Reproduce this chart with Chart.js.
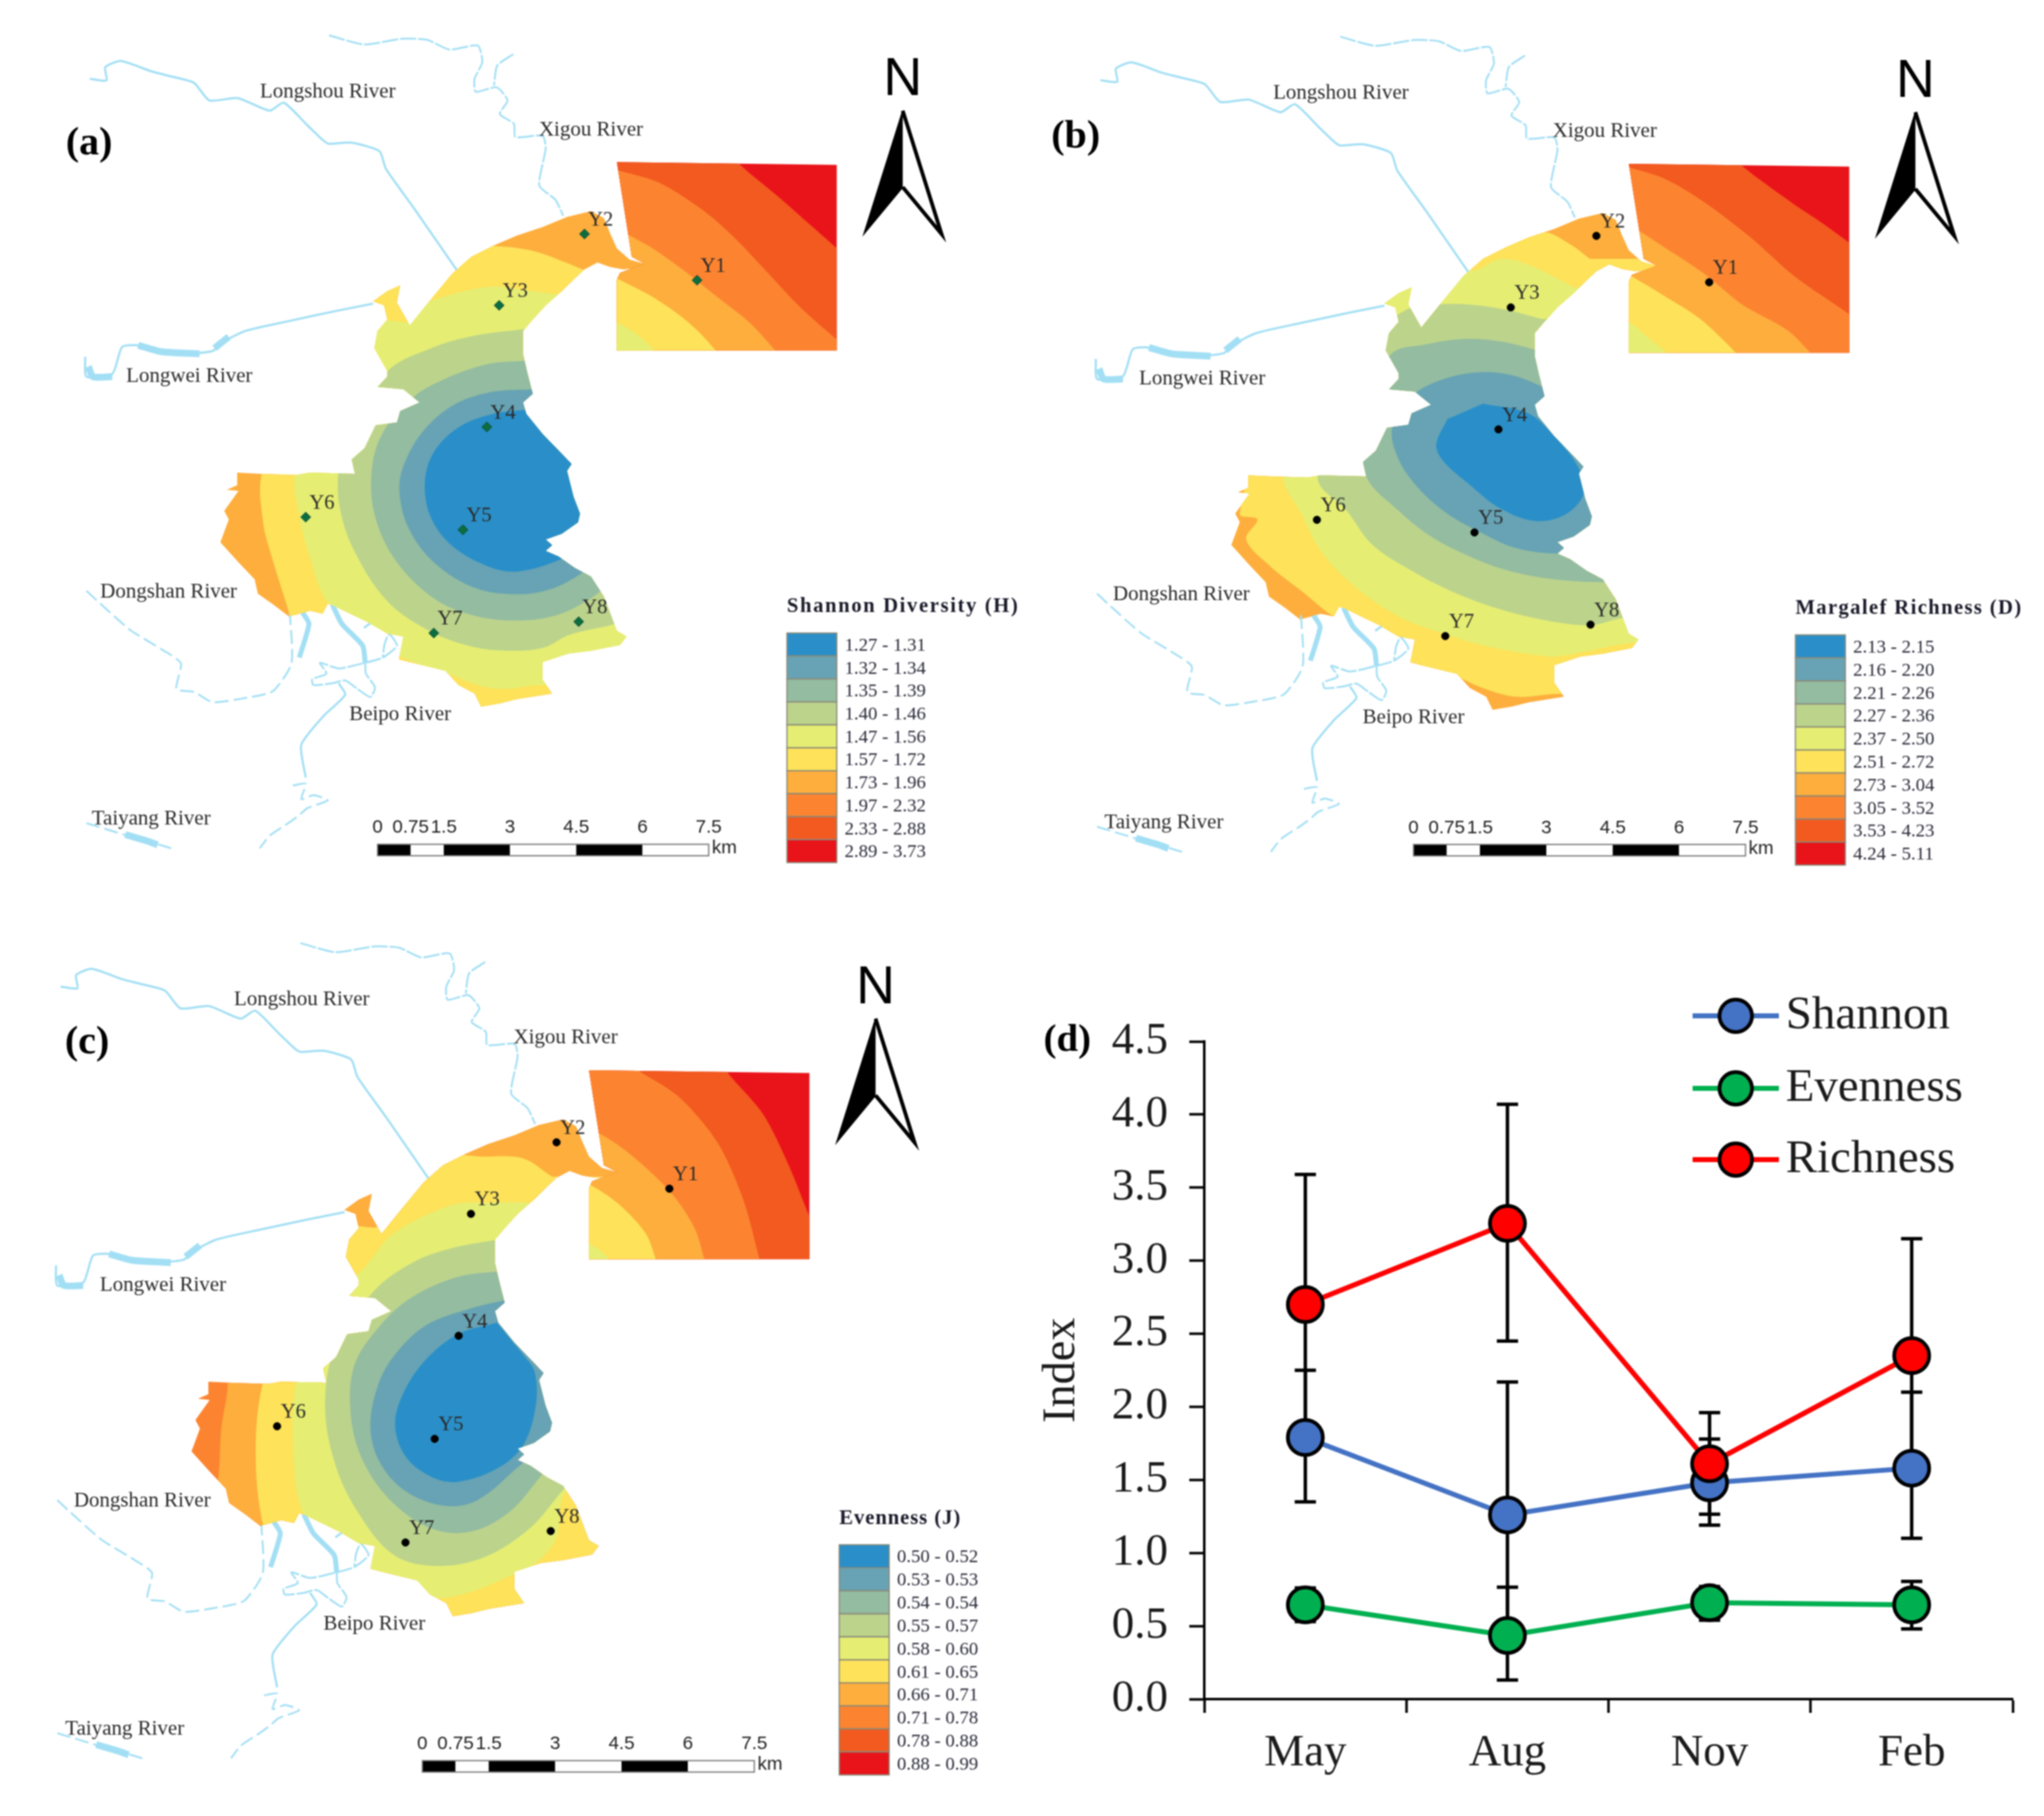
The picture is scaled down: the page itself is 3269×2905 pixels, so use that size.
<!DOCTYPE html>
<html>
<head>
<meta charset="utf-8">
<title>Diversity maps</title>
<script src="https://cdn.jsdelivr.net/npm/chart.js@4/dist/chart.umd.min.js"></script>
<style>
  html, body { margin: 0; background: #fff; }
  #page { position: relative; width: 3269px; height: 2905px; overflow: hidden; background: #fff; }
  canvas { position: absolute; filter: blur(0.8px); }
</style>
</head>
<body>
<div id="page">
  <canvas id="mapA" width="1640" height="1450" style="left:0;top:0"></canvas>
  <canvas id="mapB" width="1640" height="1450" style="left:1618px;top:4px"></canvas>
  <canvas id="mapC" width="1640" height="1450" style="left:-45px;top:1454px"></canvas>
  <canvas id="lines" width="1629" height="1405" style="left:1640px;top:1500px"></canvas>
</div>
<script>
// panel (d) values
const months = ["May", "Aug", "Nov", "Feb"];
const shannon = [1.79, 1.26, 1.48, 1.58];
const shannonHigh = [2.25, 2.17, 1.78, 2.10];
const shannonLow = [1.35, 0.35, 1.19, 1.10];
const evenness = [0.645, 0.435, 0.66, 0.645];
const evennessHigh = [0.76, 0.766, 0.77, 0.805];
const evennessLow = [0.53, 0.13, 0.54, 0.48];
const richness = [2.70, 3.255, 1.61, 2.35];
const richnessHigh = [3.59, 4.07, 1.96, 3.15];
const richnessLow = [1.79, 2.45, 1.265, 1.55];
const yTicks = [0, 0.5, 1, 1.5, 2, 2.5, 3, 3.5, 4, 4.5];

// map legends
const bandColors = ["#2A8FC8", "#67A3B4", "#93BCA0", "#BCD38C", "#E5EE73", "#FDE25A", "#FDAE3D", "#FC8430", "#F25A20", "#E9141A"];
const shannonBands = ["1.27 - 1.31", "1.32 - 1.34", "1.35 - 1.39", "1.40 - 1.46", "1.47 - 1.56", "1.57 - 1.72", "1.73 - 1.96", "1.97 - 2.32", "2.33 - 2.88", "2.89 - 3.73"];
const richnessBands = ["2.13 - 2.15", "2.16 - 2.20", "2.21 - 2.26", "2.27 - 2.36", "2.37 - 2.50", "2.51 - 2.72", "2.73 - 3.04", "3.05 - 3.52", "3.53 - 4.23", "4.24 - 5.11"];
const evennessBands = ["0.50 - 0.52", "0.53 - 0.53", "0.54 - 0.54", "0.55 - 0.57", "0.58 - 0.60", "0.61 - 0.65", "0.66 - 0.71", "0.71 - 0.78", "0.78 - 0.88", "0.88 - 0.99"];
const scaleKm = [0, 0.75, 1.5, 3, 4.5, 6, 7.5];
const scaleLabels = ["0", "0.75", "1.5", "3", "4.5", "6", "7.5"];

// sampling sites
const siteNames = ["Y1", "Y2", "Y3", "Y4", "Y5", "Y6", "Y7", "Y8"];
const sites = [[1069,481],[895,400],[763,525],[744,738],[707,918],[464,896],[662,1099],[886,1079]];

// reservoir shape
const lakeOutline = [[755,420],[790,403],[830,388],[868,370],[905,360],[925,372],[935,400],[945,425],[965,445],[988,452],[975,460],[955,462],[935,458],[915,450],[895,462],[880,478],[860,500],[835,525],[815,550],[800,570],[800,610],[806,640],[815,680],[800,695],[805,715],[830,750],[860,785],[875,803],[868,815],[878,860],[888,890],[885,905],[860,925],[835,935],[845,945],[835,955],[855,965],[880,985],[905,1000],[925,1035],[945,1095],[960,1105],[950,1120],[905,1130],[870,1135],[830,1150],[830,1180],[845,1205],[790,1215],[765,1222],[735,1228],[725,1205],[700,1190],[680,1165],[625,1150],[608,1145],[615,1105],[590,1100],[560,1080],[505,1050],[498,1048],[490,1065],[470,1060],[465,1062],[438,1070],[415,1050],[390,1030],[385,1005],[360,975],[332,940],[345,900],[338,885],[360,850],[342,848],[358,840],[358,818],[395,820],[450,822],[470,818],[540,820],[535,795],[555,775],[572,735],[605,730],[610,710],[640,695],[615,672],[575,668],[590,650],[590,640],[570,600],[575,570],[590,550],[585,525],[568,518],[590,500],[610,490],[605,520],[625,560],[650,525],[690,470],[720,440]];
const insetOutline = [[945,274],[1285,279],[1285,604],[945,604],[945,480],[950,468],[988,452],[968,440]];

// rivers
const riverLongshou = [[130,128],[156,131],[154,108],[178,97],[225,115],[256,124],[291,135],[315,166],[359,162],[408,184],[430,170],[466,209],[491,236],[500,242],[535,240],[578,255],[588,286],[632,356],[698,464]];
const riverNorth = [[500,52],[554,68],[613,58],[652,60],[686,77],[730,70],[737,99],[725,128],[727,151],[759,143],[776,166],[764,190],[786,207],[788,230],[830,228],[835,250],[825,315],[850,340],[862,368]];
const riverNorthBranch = [[785,85],[760,105],[755,140]];
const riverLongwei = [[568,522],[510,535],[440,552],[370,570],[335,590],[320,605],[270,610],[205,595],[180,598],[165,645],[125,650],[123,615]];
const riverLongweiWide = [[205,595],[240,606],[300,610]];
const riverLongweiWide2 = [[323,600],[345,580]];
const riverLongweiWide3 = [[128,632],[135,650],[165,650]];
const riverDongshan = [[125,1025],[144,1045],[193,1094],[242,1128],[271,1152],[264,1197],[291,1202],[320,1220],[369,1213],[413,1201],[442,1152],[439,1056]];
const riverDongshanWide = [[459,1063],[469,1083],[454,1142]];
const riverBeipoWide = [[505,1049],[520,1083],[552,1121],[556,1152]];
const riverBeipoLoop = [[556,1152],[557,1170],[571,1194],[564,1211],[544,1197],[525,1182],[505,1187],[476,1190],[474,1180],[496,1170],[486,1151],[515,1161],[556,1151],[583,1142],[605,1121],[593,1101],[586,1118],[583,1142]];
const riverBeipo = [[515,1187],[525,1207],[491,1245],[457,1295],[464,1352]];
const riverBeipoLower = [[444,1366],[464,1363],[457,1390],[476,1383],[498,1392],[466,1406],[454,1418],[437,1432],[408,1454],[393,1476]];
const riverTaiyang = [[125,1432],[183,1452],[218,1463],[256,1476]];
const riverTaiyangWide = [[185,1452],[218,1463],[235,1470]];
const riverSpur = [[554,1090],[566,1080]];

// north arrow
const arrowLeft = [[1387,184],[1327,400],[1387,318]];
const arrowRight = [[1387,184],[1447,400],[1387,318]];

// contour bands, outermost first, [band colour index, points]
const shannonLake = [
  [5, [[892,462],[862,448],[813,429],[755,421],[650,420],[550,450],[450,650],[396,820],[398,905],[410,960],[440,1070],[500,1300],[1000,1300],[1000,462]]],
  [4, [[845,505],[800,498],[755,492],[700,503],[645,525],[625,553],[575,553],[540,600],[480,700],[447,822],[455,900],[470,965],[498,1045],[560,1100],[610,1140],[680,1168],[730,1190],[770,1197],[830,1190],[1000,1200],[1000,505]]],
  [3, [[799,567],[726,578],[658,600],[589,642],[520,770],[514,821],[516,876],[536,948],[589,1042],[658,1097],[726,1124],[789,1130],[833,1124],[872,1102],[943,1083],[1000,1060],[1000,567]]],
  [2, [[804,622],[745,628],[677,655],[628,688],[580,755],[565,832],[575,909],[609,981],[667,1042],[726,1069],[789,1077],[848,1069],[892,1047],[921,1025],[960,990],[1000,950],[1000,622]]],
  [1, [[814,672],[750,677],[692,700],[643,749],[614,810],[609,854],[623,915],[662,975],[726,1020],[794,1031],[848,1020],[897,989],[940,950],[1000,900],[1000,672]]],
  [0, [[804,708],[750,716],[701,738],[662,782],[648,837],[658,898],[692,948],[750,984],[794,991],[858,970],[900,940],[1000,900],[1000,708]]]
];
const richnessLake = [
  [5, [[885,440],[855,415],[815,393],[750,400],[600,400],[400,700],[345,885],[372,895],[355,930],[390,975],[440,1020],[495,1068],[560,1095],[610,1145],[680,1170],[720,1190],[770,1205],[835,1200],[1100,1200],[1100,440]]],
  [4, [[860,490],[800,455],[750,440],[700,460],[640,400],[570,480],[450,700],[412,818],[440,885],[470,950],[520,1010],[590,1065],[660,1095],[720,1115],[790,1130],[830,1135],[860,1130],[960,1110],[1100,1110],[1100,490]]],
  [3, [[810,545],[760,530],[700,520],[650,520],[600,530],[500,620],[465,822],[510,880],[550,940],[610,985],[670,1020],[740,1050],[810,1070],[885,1080],[940,1067],[1100,1067],[1100,545]]],
  [2, [[805,600],[750,585],[690,580],[630,590],[580,605],[520,700],[540,820],[590,880],[640,925],[700,960],[760,985],[830,1000],[905,1005],[1000,1005],[1000,600]]],
  [1, [[815,665],[770,645],[720,638],[660,650],[610,680],[580,735],[590,790],[620,840],[665,885],[720,920],[770,945],[835,955],[1000,955],[1000,665]]],
  [0, [[720,693],[790,710],[830,750],[865,800],[877,845],[850,885],[800,898],[745,875],[700,835],[660,795],[648,765],[665,720]]]
];
const evennessLake = [
  [6, [[388,300],[388,820],[378,900],[373,990],[365,1010],[420,1100],[420,1300],[1100,1300],[1100,300]]],
  [5, [[888,460],[843,428],[783,425],[720,425],[670,470],[635,530],[620,548],[575,548],[500,600],[441,825],[431,950],[443,1072],[500,1300],[1100,1300],[1100,460]]],
  [4, [[848,505],[793,505],[733,510],[643,560],[598,620],[520,700],[493,822],[488,900],[503,1045],[560,1110],[613,1150],[703,1195],[763,1185],[828,1155],[858,1140],[893,1095],[916,1005],[1100,1005],[1100,505]]],
  [3, [[803,570],[733,585],[673,610],[613,660],[553,760],[538,860],[553,960],[588,1045],[643,1120],[708,1140],[783,1125],[853,1075],[903,1010],[950,950],[1000,930],[1000,570]]],
  [2, [[808,625],[743,635],[673,670],[623,720],[583,790],[578,880],[598,960],[643,1030],[703,1075],[763,1080],[823,1045],[873,980],[920,920],[1000,900],[1000,625]]],
  [1, [[818,675],[763,690],[693,720],[643,775],[618,830],[608,900],[623,960],[663,1010],[723,1035],[773,1025],[838,965],[880,925],[1000,900],[1000,675]]],
  [0, [[803,715],[743,735],[693,780],[658,840],[646,895],[663,950],[703,985],[743,993],[803,970],[843,930],[863,860],[861,800],[843,770]]]
];
const shannonInset = [
  [8, [[1120,255],[1135,278],[1195,335],[1245,385],[1285,425],[1310,450],[1310,630],[920,630],[920,255]]],
  [7, [[920,280],[945,288],[1010,310],[1080,360],[1130,410],[1180,470],[1230,530],[1285,585],[1310,610],[1310,630],[920,630]]],
  [6, [[920,385],[950,395],[1000,425],[1050,465],[1100,510],[1150,555],[1190,604],[1210,630],[920,630]]],
  [5, [[920,465],[945,478],[1000,510],[1045,545],[1075,575],[1098,604],[1120,630],[920,630]]],
  [4, [[920,540],[945,555],[975,575],[1003,604],[1025,630],[920,630]]]
];
const richnessInset = [
  [8, [[1105,255],[1120,278],[1200,345],[1240,375],[1285,412],[1310,435],[1310,630],[920,630],[920,255]]],
  [7, [[920,272],[945,280],[1000,300],[1060,340],[1130,400],[1200,470],[1285,537],[1310,560],[1310,630],[920,630]]],
  [6, [[920,375],[950,385],[1000,420],[1060,465],[1120,520],[1190,565],[1225,604],[1245,630],[920,630]]],
  [5, [[920,455],[945,468],[1000,505],[1055,545],[1110,604],[1130,630],[920,630]]],
  [4, [[920,535],[945,550],[975,578],[1003,604],[1025,630],[920,630]]]
];
const evennessInset = [
  [8, [[1150,255],[1158,277],[1213,350],[1253,440],[1285,530],[1310,600],[1310,630],[920,630],[920,255]]],
  [7, [[1005,255],[1018,272],[1083,320],[1143,400],[1183,500],[1208,604],[1215,630],[920,630],[920,255]]],
  [6, [[920,375],[961,385],[1013,425],[1073,490],[1108,550],[1123,604],[1130,630],[920,630]]],
  [5, [[920,465],[948,475],[993,510],[1033,560],[1048,604],[1055,630],[920,630]]],
  [4, [[920,565],[946,577],[963,590],[975,604],[985,630],[920,630]]]
];

// river labels, in map coordinates
const riverLabels = [
  ["Longshou River", 498, 151], ["Xigou River", 905, 218], ["Longwei River", 284, 650],
  ["Dongshan River", 252, 1027], ["Beipo River", 610, 1242], ["Taiyang River", 225, 1425]
];

const serif = '"Liberation Serif", serif';
const sans = '"Liberation Sans", sans-serif';
const riverBlue = "#A3DFF4";

function toXY(list) { return list.map(p => ({ x: p[0], y: p[1] })); }

function shape(points, fillColor, extra) {
  return Object.assign({
    data: toXY(points), showLine: true, fillColor: fillColor, borderColor: "transparent",
    borderWidth: 1, pointRadius: 0, tension: 0
  }, extra || {});
}

function river(points, width, dash) {
  return { data: toXY(points), showLine: true, borderColor: riverBlue, borderWidth: width, borderDash: dash || [], pointRadius: 0, tension: 0.2 };
}

// fills closed shapes, masked by the lake or the inset when asked
const shapeFill = {
  id: "shapeFill",
  beforeDatasetDraw(chart, args) {
    const ds = chart.data.datasets[args.index];
    if (!ds.fillColor) return;
    const ctx = chart.ctx;
    const line = chart.getDatasetMeta(args.index).dataset;
    ctx.save();
    if (ds.mask !== undefined) {
      const maskLine = chart.getDatasetMeta(ds.mask).dataset;
      ctx.beginPath();
      maskLine.path(ctx);
      ctx.closePath();
      ctx.clip();
    }
    line.updateControlPoints(chart.chartArea);
    ctx.beginPath();
    line.path(ctx);
    ctx.closePath();
    ctx.fillStyle = ds.fillColor;
    ctx.fill();
    ctx.restore();
  }
};

// text, legend and scale bar of one map
const mapDecor = {
  id: "mapDecor",
  afterDraw(chart) {
    const o = chart.options.plugins.mapDecor;
    const ctx = chart.ctx;
    const sx = chart.scales.x, sy = chart.scales.y;
    const X = v => sx.getPixelForValue(v), Y = v => sy.getPixelForValue(v);
    ctx.save();
    ctx.textBaseline = "middle";

    ctx.fillStyle = "#2a2a2a";
    ctx.textAlign = "center";
    ctx.font = "33.5px " + serif;
    riverLabels.forEach(l => ctx.fillText(l[0], X(l[1] + o.labelShift[0]), Y(l[2])));
    ctx.font = "33px " + serif;
    siteNames.forEach((n, i) => ctx.fillText(n, X(sites[i][0] + 25), Y(sites[i][1] - 24)));

    ctx.fillStyle = "#000";
    ctx.font = "bold 64px " + serif;
    ctx.fillText(o.tag, X(o.tagAt[0]), Y(o.tagAt[1]));
    ctx.font = "86px " + sans;
    ctx.fillText("N", X(1387), Y(131));

    // scale bar
    const bx = o.barAt[0], by = o.barAt[1];
    const kmX = km => X(bx + km * 512 / 7.5);
    ctx.font = "30px " + sans;
    ctx.fillStyle = "#222";
    scaleKm.forEach((km, i) => ctx.fillText(scaleLabels[i], kmX(km), Y(by - 29)));
    ctx.textAlign = "left";
    ctx.fillText("km", kmX(7.5) + 5, Y(by + 7));
    scaleKm.slice(0, -1).forEach((km, i) => {
      ctx.fillStyle = i % 2 === 0 ? "#000" : "#fff";
      ctx.fillRect(kmX(km), Y(by), kmX(scaleKm[i + 1]) - kmX(km), Y(by + 20) - Y(by));
    });
    ctx.strokeStyle = "#777";
    ctx.lineWidth = 2;
    ctx.strokeRect(kmX(0), Y(by), kmX(7.5) - kmX(0), Y(by + 20) - Y(by));

    // band legend
    const lx = o.legendAt[0], ly = o.legendAt[1];
    ctx.fillStyle = "#1a1a2a";
    ctx.font = "bold 33px " + serif;
    ctx.letterSpacing = o.titleSpacing;
    ctx.fillText(o.legendTitle, X(lx), Y(ly - 46));
    ctx.letterSpacing = "0px";
    ctx.font = "30px " + serif;
    o.bands.forEach((label, i) => {
      const top = Y(ly + i * 40.2), h = Y(ly + (i + 1) * 40.2) - top;
      ctx.fillStyle = bandColors[i];
      ctx.fillRect(X(lx), top, X(lx + 77) - X(lx), h);
      ctx.strokeStyle = "#8a8a7a";
      ctx.lineWidth = 2;
      ctx.strokeRect(X(lx), top, X(lx + 77) - X(lx), h);
      ctx.fillStyle = "#2a2a3a";
      ctx.fillText(label, X(lx + 89), top + h / 2 + 2);
    });
    ctx.restore();
  }
};

function drawMap(id, cfg) {
  const list = [];
  list.push(shape(lakeOutline, bandColors[cfg.lakeBase]));
  list.push(shape(insetOutline, bandColors[9]));
  [riverLongshou, riverLongwei, riverBeipo, riverSpur].forEach(r => list.push(river(r, 3.5)));
  [riverNorth, riverNorthBranch, riverBeipoLoop].forEach(r => list.push(river(r, 3, [26, 3])));
  [riverDongshan, riverBeipoLower, riverTaiyang].forEach(r => list.push(river(r, 3, [22, 8])));
  [riverLongweiWide, riverLongweiWide2, riverLongweiWide3, riverTaiyangWide].forEach(r => list.push(river(r, 11)));
  [riverDongshanWide, riverBeipoWide].forEach(r => list.push(river(r, 8)));
  cfg.lake.forEach(b => list.push(shape(b[1], bandColors[b[0]], { mask: 0, tension: 0.35 })));
  cfg.inset.forEach(b => list.push(shape(b[1], bandColors[b[0]], { mask: 1, tension: 0.3 })));
  list.push(shape(arrowRight, "#fff", { borderColor: "#000", borderWidth: 6 }));
  list.push(shape(arrowLeft, "#000", { borderColor: "#000", borderWidth: 2 }));
  list.push({
    data: toXY(sites), showLine: false, pointStyle: cfg.sitePoint, pointRadius: cfg.siteRadius,
    pointBackgroundColor: cfg.siteColor, pointBorderColor: cfg.siteEdge, pointBorderWidth: 1
  });
  list.forEach((d, i) => { d.order = list.length - i; });

  new Chart(document.getElementById(id), {
    type: "scatter",
    data: { datasets: list },
    options: {
      responsive: false, animation: false, devicePixelRatio: 1,
      layout: { padding: 0 },
      scales: {
        x: { type: "linear", display: false, min: 0, max: 1568 },
        y: { type: "linear", display: false, min: 0, max: 1568, reverse: true }
      },
      plugins: {
        legend: { display: false }, tooltip: { enabled: false },
        mapDecor: cfg.decor
      }
    },
    plugins: [shapeFill, mapDecor]
  });
}

drawMap("mapA", {
  lakeBase: 6, lake: shannonLake, inset: shannonInset,
  sitePoint: "rectRot", siteRadius: 8, siteColor: "#0C6E40", siteEdge: "#0a3a28",
  decor: { tag: "(a)", tagAt: [129, 243], labelShift: [0, 0], barAt: [575, 1469], legendAt: [1208, 1099], legendTitle: "Shannon Diversity (H)", titleSpacing: "2.6px", bands: shannonBands }
});
drawMap("mapB", {
  lakeBase: 6, lake: richnessLake, inset: richnessInset,
  sitePoint: "circle", siteRadius: 6, siteColor: "#000", siteEdge: "#000",
  decor: { tag: "(b)", tagAt: [92, 228], labelShift: [3, 0], barAt: [613, 1463], legendAt: [1202, 1097], legendTitle: "Margalef Richness (D)", titleSpacing: "2.2px", bands: richnessBands }
});
drawMap("mapC", {
  lakeBase: 7, lake: evennessLake, inset: evennessInset,
  sitePoint: "circle", siteRadius: 6, siteColor: "#000", siteEdge: "#000",
  decor: { tag: "(c)", tagAt: [171, 227], labelShift: [4, 0], barAt: [688, 1480], legendAt: [1331, 1103], legendTitle: "Evenness (J)", titleSpacing: "1.5px", bands: evennessBands }
});

// panel (d)
const lineBlue = "#4472C4", lineGreen = "#00B050", lineRed = "#FF0000";
const errorSets = [[shannonLow, shannonHigh], [evennessLow, evennessHigh], [richnessLow, richnessHigh]];

const errorBars = {
  id: "errorBars",
  beforeDatasetsDraw(chart) {
    const ctx = chart.ctx, y = chart.scales.y, x = chart.scales.x;
    ctx.save();
    ctx.strokeStyle = "#000";
    ctx.lineWidth = 5.5;
    errorSets.forEach(set => {
      months.forEach((m, i) => {
        const px = x.getPixelForValue(i);
        const lo = y.getPixelForValue(set[0][i]), hi = y.getPixelForValue(set[1][i]);
        ctx.beginPath();
        ctx.moveTo(px, lo); ctx.lineTo(px, hi);
        ctx.moveTo(px - 17, lo); ctx.lineTo(px + 17, lo);
        ctx.moveTo(px - 17, hi); ctx.lineTo(px + 17, hi);
        ctx.stroke();
      });
    });
    ctx.restore();
  }
};

const lineLegend = {
  id: "lineLegend",
  afterDraw(chart) {
    const ctx = chart.ctx;
    ctx.save();
    ctx.textBaseline = "middle";
    [["Shannon", lineBlue, 125], ["Evenness", lineGreen, 241], ["Richness", lineRed, 355]].forEach(item => {
      ctx.strokeStyle = item[1];
      ctx.lineWidth = 8;
      ctx.beginPath();
      ctx.moveTo(1067, item[2]); ctx.lineTo(1205, item[2]);
      ctx.stroke();
      ctx.beginPath();
      ctx.arc(1136, item[2], 26, 0, Math.PI * 2);
      ctx.fillStyle = item[1];
      ctx.fill();
      ctx.strokeStyle = "#000";
      ctx.lineWidth = 6;
      ctx.stroke();
      ctx.fillStyle = "#1a1a1a";
      ctx.font = "75px " + serif;
      ctx.fillText(item[0], 1216, item[2]);
    });
    ctx.fillStyle = "#000";
    ctx.font = "bold 62px " + serif;
    ctx.textAlign = "center";
    ctx.fillText("(d)", 67, 165);
    ctx.restore();
  }
};

function seriesLine(label, values, color, order) {
  return {
    label: label, data: values, borderColor: color, backgroundColor: color, borderWidth: 8,
    tension: 0, pointRadius: 28, pointBackgroundColor: color, pointBorderColor: "#000", pointBorderWidth: 6,
    order: order
  };
}

new Chart(document.getElementById("lines"), {
  type: "line",
  data: {
    labels: months,
    datasets: [
      seriesLine("Shannon", shannon, lineBlue, 2),
      seriesLine("Evenness", evenness, lineGreen, 1),
      seriesLine("Richness", richness, lineRed, 0)
    ]
  },
  options: {
    responsive: false, animation: false, devicePixelRatio: 1,
    layout: { padding: { top: 166, right: 50, left: 0, bottom: 0 } },
    plugins: { legend: { display: false }, tooltip: { enabled: false } },
    scales: {
      x: {
        type: "category", offset: true,
        grid: { offset: true, drawOnChartArea: false, drawTicks: true, tickLength: 22, tickWidth: 4, tickColor: "#000" },
        border: { color: "#000", width: 4 },
        ticks: { color: "#1a1a1a", font: { family: "Liberation Serif", size: 72 }, padding: 22, maxRotation: 0 },
        afterFit(s) { s.height = 187; }
      },
      y: {
        min: 0, max: 4.5,
        afterBuildTicks(s) { s.ticks = yTicks.map(v => ({ value: v })); },
        grid: { drawOnChartArea: false, drawTicks: true, tickLength: 24, tickWidth: 4, tickColor: "#000" },
        border: { color: "#000", width: 4 },
        ticks: { color: "#1a1a1a", font: { family: "Liberation Serif", size: 72 }, padding: 34, callback: v => v.toFixed(1) },
        title: { display: true, text: "Index", color: "#1a1a1a", font: { family: "Liberation Serif", size: 74 }, padding: { top: 14, bottom: 0 } },
        afterFit(s) { s.width = 286; }
      }
    }
  },
  plugins: [errorBars, lineLegend]
});
</script>
</body>
</html>
